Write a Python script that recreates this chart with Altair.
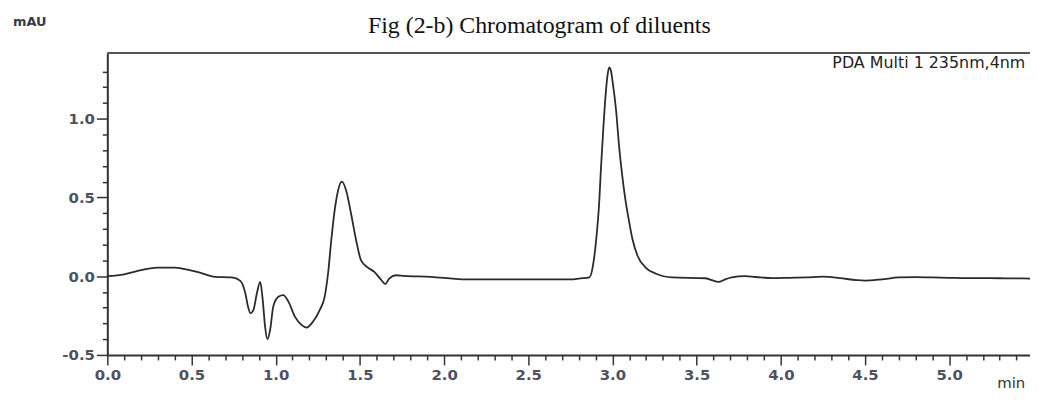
import altair as alt
import pandas as pd

# Chromatogram trace (time in min, signal in mAU)
time_min = [0.00, 0.10, 0.20, 0.30, 0.40, 0.50, 0.55, 0.64, 0.74, 0.79, 0.82, 0.835,
            0.85, 0.868, 0.888, 0.908, 0.923, 0.937, 0.951, 0.967, 0.986, 1.016,
            1.045, 1.075, 1.114, 1.153, 1.183, 1.222, 1.262, 1.291, 1.311, 1.330,
            1.350, 1.370, 1.393, 1.419, 1.448, 1.478, 1.507, 1.547, 1.586, 1.625,
            1.651, 1.674, 1.714, 1.763, 1.92, 2.02, 2.11, 2.40, 2.77, 2.80, 2.863,
            2.883, 2.903, 2.922, 2.932, 2.946, 2.958, 2.972, 2.981, 2.991, 3.001,
            3.021, 3.040, 3.058, 3.075, 3.095, 3.119, 3.149, 3.197, 3.256, 3.355,
            3.551, 3.59, 3.63, 3.67, 3.709, 3.787, 3.85, 3.95, 4.05, 4.15, 4.25,
            4.35, 4.45, 4.50, 4.60, 4.70, 4.80, 4.90, 5.00, 5.10, 5.20, 5.30, 5.40,
            5.48]
signal_mau = [0.000, 0.012, 0.038, 0.055, 0.055, 0.035, 0.022, -0.004, -0.008, -0.03,
              -0.11, -0.19, -0.235, -0.214, -0.11, -0.036, -0.15, -0.32, -0.40, -0.34,
              -0.19, -0.13, -0.12, -0.16, -0.257, -0.309, -0.326, -0.288, -0.214,
              -0.13, 0.017, 0.227, 0.416, 0.542, 0.600, 0.542, 0.395, 0.227, 0.10,
              0.055, 0.027, -0.021, -0.05, -0.015, 0.006, 0.002, -0.004, -0.012,
              -0.02, -0.02, -0.02, -0.015, -0.008, 0.059, 0.227, 0.479, 0.689, 0.941,
              1.131, 1.285, 1.325, 1.305, 1.236, 1.060, 0.820, 0.640, 0.500, 0.370,
              0.235, 0.130, 0.055, 0.017, -0.008, -0.013, -0.025, -0.036, -0.02,
              -0.008, 0.0, -0.005, -0.012, -0.01, -0.008, -0.003, -0.012, -0.025,
              -0.028, -0.02, -0.008, -0.006, -0.008, -0.01, -0.012, -0.012, -0.013,
              -0.014, -0.015]

# Axis tick values (major every 0.5 labelled, minor every 0.1)
x_ticks = [round(i * 0.1, 1) for i in range(0, 55)]
y_ticks = [round(-0.5 + i * 0.1, 1) for i in range(0, 19)]

title_text = "Fig (2-b) Chromatogram of diluents"
y_unit = "mAU"
x_unit = "min"
channel_text = "PDA Multi 1 235nm,4nm"

W, H = 929, 304
trace = pd.DataFrame({"t": time_min, "v": signal_mau})

major = "abs(datum.value*2 - round(datum.value*2)) < 0.001"
lab = f"{major} ? replace(format(datum.value, '.1f'), '\u2212', '-') : ''"

x_axis = alt.Axis(values=x_ticks, labelExpr=lab, title=None, grid=False,
                  tickSize={"condition": {"test": major, "value": 10}, "value": 5},
                  tickColor="#333", tickWidth=1.5, domainColor="#333", domainWidth=2,
                  labelFont="DejaVu Sans", labelFontWeight="bold", labelFontSize=15,
                  labelColor="#50505f", labelPadding=3, labelOverlap=False,
                  labelFlush=False, labelBound=False)
y_axis = alt.Axis(values=y_ticks, labelExpr=lab, title=None, grid=False,
                  tickSize={"condition": {"test": major, "value": 11}, "value": 5},
                  tickColor="#333", tickWidth=1.5, domainColor="#333", domainWidth=2,
                  labelFont="DejaVu Sans", labelFontWeight="bold", labelFontSize=15,
                  labelColor="#50505f", labelPadding=2, labelOverlap=False,
                  labelFlush=False, labelBound=False)

line = alt.Chart(trace).mark_line(color="#2b2b2b", strokeWidth=1.8,
                                  interpolate="monotone", clip=True).encode(
    x=alt.X("t:Q", scale=alt.Scale(domain=[0, 5.48], nice=False, zero=False), axis=x_axis),
    y=alt.Y("v:Q", scale=alt.Scale(domain=[-0.5, 1.417], nice=False, zero=False), axis=y_axis),
)

one = pd.DataFrame({"k": [0]})
top_line = alt.Chart(one).mark_rule(color="#555", strokeWidth=2).encode(
    x=alt.value(0), x2=alt.value(W), y=alt.value(0))

def label(txt, x, y, **kw):
    return alt.Chart(pd.DataFrame({"s": [txt]})).mark_text(**kw).encode(
        text="s:N", x=alt.value(x), y=alt.value(y))

title = label(title_text, 435, -20, font="Liberation Serif", fontSize=24,
              align="center", baseline="alphabetic", color="#111")
mau = label(y_unit, -78, -31, font="DejaVu Sans", fontWeight="bold", fontSize=13,
            align="center", baseline="middle", color="#3a3a4a")
pda = label(channel_text, 730, 10, font="DejaVu Sans", fontSize=16,
            align="left", baseline="middle", color="#222")
mins = label(x_unit, 896, 337, font="DejaVu Sans", fontSize=15,
             align="left", baseline="alphabetic", color="#333")

chart = alt.layer(line, top_line, title, mau, pda, mins).properties(
    width=W, height=H,
    autosize=alt.AutoSizeParams(type="none"),
    padding={"left": 100, "top": 44, "right": 0, "bottom": 39},
).configure_view(stroke=None).configure(background="white")

chart.save("out.html", embed_options={"renderer": "svg", "actions": False})
